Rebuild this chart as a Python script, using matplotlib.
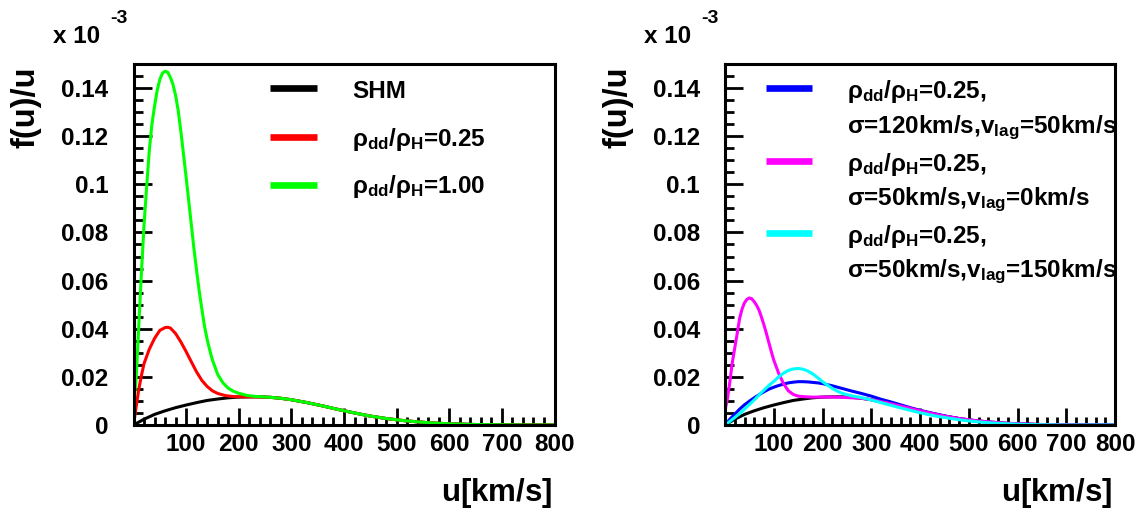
import matplotlib
matplotlib.use("Agg")
import matplotlib.pyplot as plt
from matplotlib.ticker import MultipleLocator, FixedLocator

plt.rcParams['font.family'] = ['Liberation Sans', 'DejaVu Sans']
plt.rcParams['font.weight'] = 'bold'
plt.rcParams['mathtext.fontset'] = 'custom'
plt.rcParams['mathtext.rm'] = 'Liberation Sans'
plt.rcParams['mathtext.it'] = 'Liberation Sans'
plt.rcParams['mathtext.bf'] = 'Liberation Sans:bold'

# values, f(u)/u in units of 1e-3, u in km/s
u_shm = [0, 20, 40, 60, 80, 100, 120, 140, 160, 180, 200, 220, 240, 260, 280, 300,
         330, 360, 390, 420, 450, 480, 510, 540, 570, 600, 650, 700, 750, 800]
f_shm = [0, 0.0024, 0.0044, 0.0059, 0.0072, 0.0083, 0.0093, 0.0102, 0.0108, 0.0113,
         0.0116, 0.0117, 0.0117, 0.0115, 0.0111, 0.0105, 0.0093, 0.0079, 0.0064, 0.0050,
         0.0037, 0.0027, 0.0019, 0.0013, 0.0008, 0.0005, 0.0002, 0.0001, 0.0, 0.0]

# tail shared by the dark-disk curves (same as SHM beyond ~250 km/s)
u_tail = [280, 300, 330, 360, 390, 420, 450, 480, 510, 540, 570, 600, 650, 700, 750, 800]
f_tail = [0.0111, 0.0105, 0.0093, 0.0079, 0.0064, 0.0050, 0.0037, 0.0027, 0.0019,
          0.0013, 0.0008, 0.0005, 0.0002, 0.0001, 0.0, 0.0]

u_r025 = [0, 5, 10, 15, 20, 30, 40, 50, 60, 65, 70, 80, 90, 100, 110, 120, 130, 140,
          150, 160, 175, 190, 210, 230, 260]
f_r025 = [0, 0.0075, 0.0148, 0.0205, 0.0255, 0.0315, 0.0360, 0.0393, 0.0405, 0.0406,
          0.0403, 0.0380, 0.0345, 0.0305, 0.0262, 0.0220, 0.0185, 0.0160, 0.0142, 0.0131,
          0.0122, 0.0118, 0.0117, 0.0117, 0.0115]

u_r100 = [0, 5, 10, 15, 20, 25, 30, 35, 40, 45, 50, 55, 60, 65, 70, 75, 80, 85, 90, 95,
          100, 105, 110, 115, 120, 125, 130, 135, 140, 145, 150, 160, 170, 180, 190, 200,
          215, 230, 260]
f_r100 = [0.008, 0.019, 0.041, 0.063, 0.083, 0.099, 0.114, 0.125, 0.1325, 0.139, 0.1435,
          0.1462, 0.147, 0.1466, 0.1445, 0.1415, 0.137, 0.1305, 0.122, 0.1125, 0.103, 0.093,
          0.083, 0.073, 0.064, 0.0555, 0.048, 0.041, 0.0355, 0.031, 0.027, 0.021, 0.0175,
          0.0153, 0.0140, 0.0132, 0.0123, 0.0119, 0.0115]

u_s120 = [0, 10, 20, 30, 40, 50, 60, 70, 80, 90, 100, 110, 120, 130, 140, 150, 160, 170,
          180, 190, 200, 220, 240, 260, 280, 300, 320, 340, 360, 380, 400, 430, 460, 490,
          520, 550, 580, 620, 660, 700, 750, 800]
f_s120 = [0, 0.0024, 0.0045, 0.0066, 0.0084, 0.0099, 0.0113, 0.0126, 0.0138, 0.0149,
          0.0157, 0.0164, 0.0170, 0.0175, 0.0178, 0.0180, 0.0180, 0.0179, 0.0177, 0.0175,
          0.0172, 0.0163, 0.0152, 0.0141, 0.0131, 0.0120, 0.0107, 0.0096, 0.0084, 0.0072,
          0.0061, 0.0047, 0.0034, 0.0023, 0.0016, 0.0010, 0.0006, 0.0003, 0.0001, 0.0,
          0.0, 0.0]

u_s50_0 = [0, 5, 10, 15, 20, 25, 30, 35, 40, 45, 50, 55, 60, 65, 70, 75, 80, 85, 90, 95,
           100, 110, 120, 130, 140, 150, 165, 180, 200, 230, 260]
f_s50_0 = [0.006, 0.011, 0.018, 0.026, 0.032, 0.038, 0.0443, 0.0482, 0.0508, 0.0522, 0.0528,
           0.0524, 0.0512, 0.0497, 0.0476, 0.0447, 0.0415, 0.038, 0.0342, 0.0305, 0.027,
           0.0215, 0.0172, 0.0142, 0.0127, 0.0120, 0.0117, 0.0116, 0.0116, 0.0116, 0.0113]

u_s50_150 = [0, 10, 20, 30, 40, 50, 60, 70, 80, 90, 100, 110, 120, 130, 140, 150, 160,
             170, 180, 190, 200, 210, 220, 230, 240, 260, 280, 300, 320, 340, 360, 380,
             400, 430, 460, 490, 520, 550, 580, 620, 660, 700, 750, 800]
f_s50_150 = [0, 0.0015, 0.0031, 0.0047, 0.0066, 0.0085, 0.0104, 0.0125, 0.0145, 0.0164,
             0.0181, 0.0200, 0.0215, 0.0227, 0.0233, 0.0235, 0.0232, 0.0224, 0.0212, 0.0197,
             0.0180, 0.0166, 0.0152, 0.0141, 0.0132, 0.0121, 0.0114, 0.0104, 0.0093, 0.0082,
             0.0071, 0.0061, 0.0051, 0.0038, 0.0028, 0.0019, 0.0013, 0.0008, 0.0005, 0.0002,
             0.0001, 0, 0, 0]

yticks = [0, 0.02, 0.04, 0.06, 0.08, 0.1, 0.12, 0.14]
ytick_labels = ['0', '0.02', '0.04', '0.06', '0.08', '0.1', '0.12', '0.14']
xticks = [100, 200, 300, 400, 500, 600, 700, 800]

rho_label = r'$\rho_{\mathbf{dd}}$/$\rho_{\mathbf{H}}$'
left_labels = ['SHM', rho_label + '=0.25', rho_label + '=1.00']
right_labels = [(rho_label + '=0.25,', r'$\sigma$=120km/s,v$_{\mathbf{lag}}$=50km/s'),
                (rho_label + '=0.25,', r'$\sigma$=50km/s,v$_{\mathbf{lag}}$=0km/s'),
                (rho_label + '=0.25,', r'$\sigma$=50km/s,v$_{\mathbf{lag}}$=150km/s')]

W, H = 1141, 514
fig = plt.figure(figsize=(W / 100, H / 100), dpi=100)
ax1 = fig.add_axes([133.5 / W, (H - 425) / H, 421 / W, 361 / H])
ax2 = fig.add_axes([725 / W, (H - 425) / H, 390 / W, 361 / H])

lw = 2.2
ax1.plot(u_shm, f_shm, color='black', lw=lw)
ax1.plot(u_r025 + u_tail, f_r025 + f_tail, color='#ff0000', lw=lw)
ax1.plot(u_r100 + u_tail, f_r100 + f_tail, color='#00ff00', lw=lw)

ax2.plot(u_shm, f_shm, color='black', lw=lw)
ax2.plot(u_s120, f_s120, color='#0000ff', lw=lw)
ax2.plot(u_s50_0 + u_tail, f_s50_0 + f_tail, color='#ff00ff', lw=lw)
ax2.plot(u_s50_150, f_s50_150, color='#00ffff', lw=lw)

fs = 17.5
for ax in (ax1, ax2):
    ax.set_xlim(0, 800)
    ax.set_ylim(0, 0.15)
    ax.xaxis.set_major_locator(FixedLocator(xticks))
    ax.xaxis.set_minor_locator(MultipleLocator(20))
    ax.set_yticks(yticks)
    ax.set_yticklabels(ytick_labels)
    ax.yaxis.set_minor_locator(MultipleLocator(0.005))
    ax.tick_params(which='both', direction='in', top=False, right=False, width=2.0,
                   labelsize=fs)
    ax.tick_params(axis='x', which='major', length=12.5, pad=6)
    ax.tick_params(axis='x', which='minor', length=5.5)
    ax.tick_params(axis='y', which='major', length=13, pad=18)
    ax.tick_params(axis='y', which='minor', length=6.5)
    for lab in ax.get_xticklabels() + ax.get_yticklabels():
        lab.set_fontweight('bold')
    for sp in ax.spines.values():
        sp.set_linewidth(2.2)

# legends
left_colors = ['black', '#ff0000', '#00ff00']
key_y = [0.9327, 0.7986, 0.6648]
txt_y = [0.905, 0.7737, 0.6418]
for c, ky, ty, lab in zip(left_colors, key_y, txt_y, left_labels):
    ax1.plot([0.324, 0.436], [ky, ky], color=c, lw=4.8, transform=ax1.transAxes,
             solid_capstyle='butt')
    ax1.text(0.519, ty, lab, transform=ax1.transAxes, fontsize=fs, fontweight='bold',
             va='baseline', ha='left')

right_colors = ['#0000ff', '#ff00ff', '#00ffff']
key_y2 = [0.9327, 0.7321, 0.5327]
txt_y2 = [(0.905, 0.808), (0.7044, 0.6094), (0.505, 0.4108)]
for c, ky, (t1, t2), (l1, l2) in zip(right_colors, key_y2, txt_y2, right_labels):
    ax2.plot([0.104, 0.223], [ky, ky], color=c, lw=4.8, transform=ax2.transAxes,
             solid_capstyle='butt')
    ax2.text(0.313, t1, l1, transform=ax2.transAxes, fontsize=fs, fontweight='bold',
             va='baseline', ha='left')
    ax2.text(0.313, t2, l2, transform=ax2.transAxes, fontsize=fs, fontweight='bold',
             va='baseline', ha='left')

# axis titles and exponent labels
for x0, xr in ((0, 552), (591.5, 1112)):
    fig.text((26.5 + x0) / W, (H - 66) / H, 'f(u)/u', rotation=90, ha='center', va='top',
             fontsize=23.5, fontweight='bold')
    fig.text(xr / W, (H - 501) / H, 'u$[$km/s$]$', ha='right', va='baseline',
             fontsize=22.5, fontweight='bold')
    fig.text((53 + x0) / W, (H - 43) / H, 'x 10', ha='left', va='baseline',
             fontsize=17.5, fontweight='bold')
    fig.text((110 + x0) / W, (H - 23) / H, '-3', ha='left', va='baseline',
             fontsize=14, fontweight='bold')

fig.savefig('out.png', dpi=100)
